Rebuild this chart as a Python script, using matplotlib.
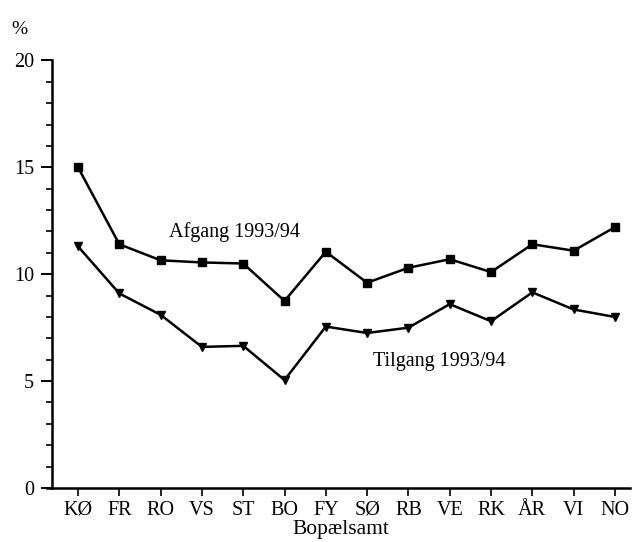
import matplotlib
matplotlib.use("Agg")
import matplotlib.pyplot as plt
from matplotlib.ticker import MultipleLocator

categories = ["KØ", "FR", "RO", "VS", "ST", "BO", "FY", "SØ", "RB", "VE", "RK", "ÅR", "VI", "NO"]
afgang = [15.0, 11.4, 10.65, 10.55, 10.5, 8.75, 11.05, 9.6, 10.3, 10.7, 10.1, 11.4, 11.1, 12.2]
tilgang = [11.3, 9.1, 8.1, 6.6, 6.65, 5.05, 7.55, 7.25, 7.5, 8.6, 7.8, 9.15, 8.35, 8.0]
yticks = [0, 5, 10, 15, 20]

plt.rcParams['font.family'] = ['Liberation Serif', 'DejaVu Serif']

fig = plt.figure(figsize=(6.34, 5.42), dpi=100)
ax = fig.add_axes([0.082, 0.0996, 0.912, 0.789])

x = list(range(len(categories)))
ax.plot(x, afgang, color='black', lw=1.8, marker='s', markersize=6, clip_on=False)
ax.plot(x, tilgang, color='black', lw=1.8, marker='v', markersize=5.5, clip_on=False)

ax.set_xlim(-0.63, 13.37)
ax.set_ylim(0, 20)
ax.set_xticks(x)
ax.set_xticklabels(categories, fontsize=14.5)
ax.set_yticks(yticks)
ax.set_yticklabels([str(v) for v in yticks], fontsize=14.5)
ax.yaxis.set_minor_locator(MultipleLocator(1))
ax.tick_params(axis='y', which='major', length=8, width=1.4, direction='out', pad=5)
ax.tick_params(axis='y', which='minor', length=4, width=1.2, direction='out')
ax.tick_params(axis='x', which='major', length=6, width=1.2, direction='out', pad=3)

for s in ['top', 'right']:
    ax.spines[s].set_visible(False)
for s in ['left', 'bottom']:
    ax.spines[s].set_linewidth(1.8)
# x axis line extends slightly left of the y axis
ax.plot([-0.008, 0], [0, 0], transform=ax.transAxes, color='black', lw=1.8, clip_on=False)

ax.set_xlabel("Bopælsamt", fontsize=15.5, labelpad=0)
ax.text(-0.07, 1.072, "%", transform=ax.transAxes, fontsize=14, ha='left', va='center')
ax.text(2.2, 11.95, "Afgang 1993/94", fontsize=14.5, ha='left', va='center')
ax.text(7.15, 5.9, "Tilgang 1993/94", fontsize=14.5, ha='left', va='center')

fig.savefig("out.png", dpi=100)
